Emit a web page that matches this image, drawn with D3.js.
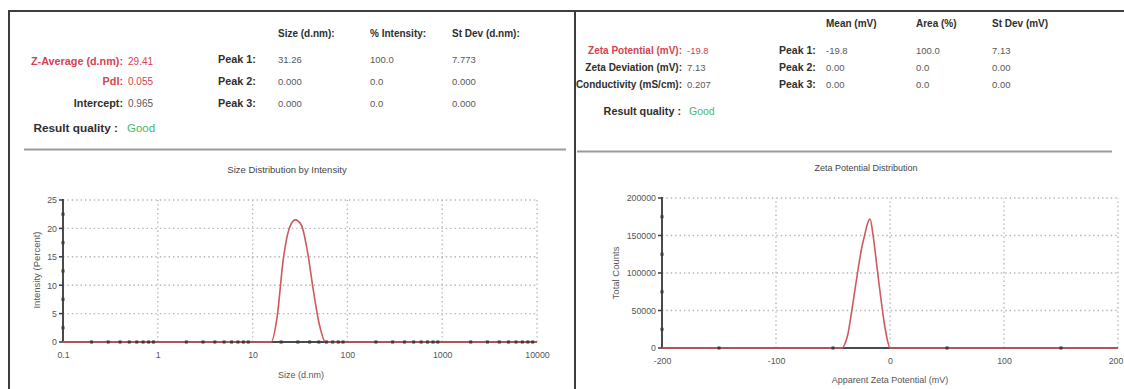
<!DOCTYPE html>
<html>
<head>
<meta charset="utf-8">
<script src="https://cdn.jsdelivr.net/npm/d3@7"></script>
<style>
  html, body { margin: 0; padding: 0; background: #fff; }
  svg { display: block; font-family: "Liberation Sans", Arial, sans-serif; }
</style>
</head>
<body>
<svg id="report" width="1124" height="389"></svg>
<script>
// ---- Size (DLS) result ----
const sizeSummaryLabels = ["Z-Average (d.nm):", "PdI:", "Intercept:"];
const sizeSummaryValues = ["29.41", "0.055", "0.965"];
const sizeSummaryHighlight = [true, true, false];
const sizePeakHeaders = ["Size (d.nm):", "% Intensity:", "St Dev (d.nm):"];
const peakNames = ["Peak 1:", "Peak 2:", "Peak 3:"];
const sizePeakSize = ["31.26", "0.000", "0.000"];
const sizePeakIntensity = ["100.0", "0.0", "0.0"];
const sizePeakStDev = ["7.773", "0.000", "0.000"];

// size distribution by intensity
const sizeNm = [0.1, 15.69, 18.17, 21.04, 24.36, 28.21, 32.67, 37.84, 43.82, 50.75, 58.77, 10000];
const intensityPct = [0, 0, 4.5, 14.5, 20.0, 21.5, 20.6, 16.0, 9.0, 3.0, 0, 0];
const sizeTicks = [0.1, 1, 10, 100, 1000, 10000];
const sizeTickLabels = ["0.1", "1", "10", "100", "1000", "10000"];
const intensityTicks = [0, 5, 10, 15, 20, 25];

// ---- Zeta potential result ----
const zetaSummaryLabels = ["Zeta Potential (mV):", "Zeta Deviation (mV):", "Conductivity (mS/cm):"];
const zetaSummaryValues = ["-19.8", "7.13", "0.207"];
const zetaSummaryHighlight = [true, false, false];
const zetaPeakHeaders = ["Mean (mV)", "Area (%)", "St Dev (mV)"];
const zetaPeakMean = ["-19.8", "0.00", "0.00"];
const zetaPeakArea = ["100.0", "0.0", "0.0"];
const zetaPeakStDev = ["7.13", "0.00", "0.00"];

// zeta potential distribution
const zetaMv = [-200, -42, -40, -37, -34, -31, -28, -25, -22, -19.5, -17.5, -15, -12.5, -10, -7.5, -5, -2.5, 0, 200];
const totalCounts = [0, 0, 4000, 18000, 45000, 75000, 105000, 132000, 152000, 167000, 172000, 152000, 122000, 90000, 60000, 33000, 12000, 0, 0];
const zetaTicks = [-200, -100, 0, 100, 200];
const countTicks = [0, 50000, 100000, 150000, 200000];

const svg = d3.select("#report");
const W = +svg.attr("width");
const RED = "#d5434f", GREEN = "#45b96c", LABEL = "#2e2e2e", VALUE = "#595959", CURVE = "#cf5a5e";

// ---------- frames ----------
const frame = svg.append("g").attr("fill", "none");
frame.append("path").attr("d", "M9,389 V11 H1124").attr("stroke", "#3d3d3d").attr("stroke-width", 2);
frame.append("line").attr("x1", 575).attr("x2", 575).attr("y1", 11).attr("y2", 389).attr("stroke", "#3d3d3d").attr("stroke-width", 2);
frame.append("line").attr("x1", 24).attr("x2", 566).attr("y1", 149.5).attr("y2", 149.5).attr("stroke", "#9a9a9a").attr("stroke-width", 2);
frame.append("line").attr("x1", 577).attr("x2", 1112).attr("y1", 151.5).attr("y2", 151.5).attr("stroke", "#9a9a9a").attr("stroke-width", 2);

// ---------- summary tables ----------
function text(g, x, y, s, opts) {
  return g.append("text").attr("x", x).attr("y", y).text(s)
    .attr("font-size", opts.size || 9.5)
    .attr("font-weight", opts.bold ? "bold" : "normal")
    .attr("fill", opts.fill || VALUE)
    .attr("text-anchor", opts.anchor || "start");
}

const left = svg.append("g");
const sRows = [65, 85, 107];
sizeSummaryLabels.forEach((l, i) => {
  text(left, 123, sRows[i], l, { bold: true, fill: sizeSummaryHighlight[i] ? RED : LABEL, anchor: "end", size: 10.8 });
  text(left, 128, sRows[i], sizeSummaryValues[i], { fill: sizeSummaryHighlight[i] ? RED : VALUE, size: 10 });
});
text(left, 118, 132, "Result quality :", { bold: true, fill: LABEL, anchor: "end", size: 11.8 });
text(left, 127, 132, "Good", { fill: GREEN, size: 11.5 });

const sCols = [278, 370, 452];
sizePeakHeaders.forEach((h, j) => text(left, sCols[j], 37, h, { bold: true, fill: LABEL, size: 10 }));
const sPeakRows = [63, 85, 107];
peakNames.forEach((p, i) => {
  text(left, 218, sPeakRows[i], p, { bold: true, fill: LABEL, size: 10.8 });
  [sizePeakSize, sizePeakIntensity, sizePeakStDev].forEach((col, j) =>
    text(left, sCols[j], sPeakRows[i], col[i], { size: 9.5 }));
});

const right = svg.append("g");
const zRows = [54, 71, 88];
zetaSummaryLabels.forEach((l, i) => {
  text(right, 682, zRows[i], l, { bold: true, fill: zetaSummaryHighlight[i] ? RED : LABEL, anchor: "end", size: 10 });
  text(right, 687, zRows[i], zetaSummaryValues[i], { fill: zetaSummaryHighlight[i] ? RED : VALUE, size: 9.5 });
});
text(right, 681, 115, "Result quality :", { bold: true, fill: LABEL, anchor: "end", size: 10.8 });
text(right, 689, 115, "Good", { fill: GREEN, size: 10.5 });

const zCols = [826, 916, 992];
zetaPeakHeaders.forEach((h, j) => text(right, zCols[j], 27, h, { bold: true, fill: LABEL, size: 10 }));
peakNames.forEach((p, i) => {
  text(right, 779, zRows[i], p, { bold: true, fill: LABEL, size: 10.5 });
  [zetaPeakMean, zetaPeakArea, zetaPeakStDev].forEach((col, j) =>
    text(right, zCols[j], zRows[i], col[i], { size: 9.5 }));
});

// ---------- charts ----------
function drawChart(cfg) {
  const g = svg.append("g");
  const { x, y, xTicks, xLabels, yTicks, xMinor, yMinor } = cfg;
  const [x0, x1] = x.range();
  const [y0, y1] = y.range();

  // dotted grid
  const grid = g.append("g").attr("stroke", "#b5b5b5").attr("stroke-width", 1.4).attr("stroke-dasharray", "1.4,3");
  grid.selectAll(".gx").data(xTicks.slice(1)).join("line")
    .attr("x1", d => x(d)).attr("x2", d => x(d)).attr("y1", y0).attr("y2", y1);
  grid.selectAll(".gy").data(yTicks.slice(1)).join("line")
    .attr("x1", x0).attr("x2", x1).attr("y1", d => y(d)).attr("y2", d => y(d));

  // axis lines
  g.append("line").attr("x1", x0).attr("x2", x1).attr("y1", y0).attr("y2", y0).attr("stroke", "#4a4a4a").attr("stroke-width", 2);
  g.append("line").attr("x1", x0).attr("x2", x0).attr("y1", y0).attr("y2", y1 - 1).attr("stroke", "#4a4a4a").attr("stroke-width", 2);

  // distribution curve
  const line = d3.line().curve(d3.curveMonotoneX).x(d => x(d[0])).y(d => y(d[1]));
  g.append("path").datum(d3.zip(cfg.xs, cfg.ys)).attr("d", line)
    .attr("fill", "none").attr("stroke", CURVE).attr("stroke-width", 1.6).attr("stroke-linejoin", "round");

  // minor tick marks
  g.selectAll(".mx").data(xMinor).join("rect")
    .attr("x", d => x(d) - 1.5).attr("y", y0 - 1.5).attr("width", 3).attr("height", 3).attr("fill", "#3a3a3a");
  g.selectAll(".my").data(yMinor).join("rect")
    .attr("x", x0 - 1.5).attr("y", d => y(d) - 1.5).attr("width", 3).attr("height", 3).attr("fill", "#3a3a3a");
  g.selectAll(".ty").data(yTicks).join("line")
    .attr("x1", x0 - 4).attr("x2", x0).attr("y1", d => y(d)).attr("y2", d => y(d))
    .attr("stroke", "#3a3a3a").attr("stroke-width", 1.5);

  // tick labels through d3 axes
  const xa = g.append("g").attr("transform", `translate(0,${y0})`)
    .call(d3.axisBottom(x).tickValues(xTicks).tickSize(0).tickPadding(cfg.xPad)
      .tickFormat((d, i) => xLabels[i]));
  const ya = g.append("g").attr("transform", `translate(${x0},0)`)
    .call(d3.axisLeft(y).tickValues(yTicks).tickSize(0).tickPadding(6).tickFormat(d => String(d)));
  [xa, ya].forEach(a => {
    a.select(".domain").remove();
    a.selectAll("text").attr("font-size", 8.8).attr("fill", "#555").attr("font-family", "Liberation Sans, Arial, sans-serif");
  });
  // keep a label that would run past the page edge inside it
  xa.selectAll(".tick text").each(function (d) {
    const b = this.getBBox();
    const over = x(d) + b.x + b.width - (W - 1);
    if (over > 0) d3.select(this).attr("dx", -over);
  });

  // titles
  text(g, cfg.titleX, cfg.titleY, cfg.title, { size: cfg.titleSize, fill: "#444", anchor: "middle" });
  text(g, cfg.xTitleX, cfg.xTitleY, cfg.xTitle, { size: 9, fill: "#555", anchor: "middle" });
  text(g, 0, 0, cfg.yTitle, { size: 9.5, fill: "#555", anchor: "middle" })
    .attr("transform", `translate(${cfg.yTitleX},${cfg.yTitleY}) rotate(-90)`);
}

const sx = d3.scaleLog().domain([0.1, 10000]).range([63, 537]);
const sy = d3.scaleLinear().domain([0, 25]).range([342, 200]);
drawChart({
  x: sx, y: sy, xs: sizeNm, ys: intensityPct,
  xTicks: sizeTicks, xLabels: sizeTickLabels, yTicks: intensityTicks,
  xMinor: sx.ticks().filter(d => !sizeTicks.includes(d)),
  yMinor: d3.range(2.5, 25, 5),
  xPad: 10,
  title: "Size Distribution by Intensity", titleX: 287, titleY: 173, titleSize: 9.5,
  xTitle: "Size (d.nm)", xTitleX: 301, xTitleY: 378,
  yTitle: "Intensity (Percent)", yTitleX: 40, yTitleY: 270
});

const zx = d3.scaleLinear().domain([-200, 200]).range([662, 1118]);
const zy = d3.scaleLinear().domain([0, 200000]).range([348, 198]);
drawChart({
  x: zx, y: zy, xs: zetaMv, ys: totalCounts,
  xTicks: zetaTicks, xLabels: zetaTicks.map(String), yTicks: countTicks,
  xMinor: d3.range(-150, 200, 100),
  yMinor: d3.range(25000, 200000, 50000),
  xPad: 10,
  title: "Zeta Potential Distribution", titleX: 866, titleY: 171, titleSize: 9,
  xTitle: "Apparent Zeta Potential (mV)", xTitleX: 890, xTitleY: 383,
  yTitle: "Total Counts", yTitleX: 619, yTitleY: 273
});
</script>
</body>
</html>
